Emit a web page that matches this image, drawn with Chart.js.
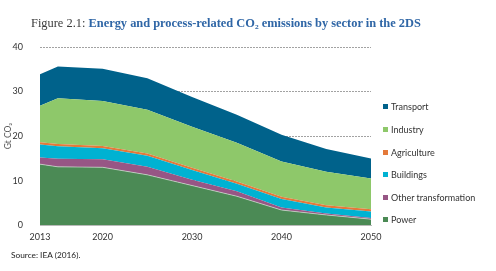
<!DOCTYPE html>
<html><head><meta charset="utf-8">
<script src="https://cdn.jsdelivr.net/npm/chart.js@4.4.0/dist/chart.umd.min.js"></script>
<style>
html,body{margin:0;padding:0;background:#fff;}
#wrap{position:relative;width:496px;height:271px;overflow:hidden;}
#c{position:absolute;left:0;top:0;}
#title{position:absolute;left:31px;top:16px;font-family:"Liberation Serif";font-size:12.4px;white-space:nowrap;color:#3a3a3a;}
#title b{color:#2f66a6;}
#source{position:absolute;left:11px;top:250px;font-family:Lato;font-size:8.3px;color:#222;}
.li{position:absolute;left:383px;white-space:nowrap;font-family:Lato;font-size:9px;color:#333;line-height:12px;height:12px;}
.sw{display:inline-block;width:5px;height:5px;margin-right:3px;vertical-align:1px;}
</style></head>
<body>
<div id="wrap">
<canvas id="c" width="496" height="271"></canvas>
<div id="title">Figure 2.1: <b>Energy and process-related CO₂ emissions by sector in the 2DS</b></div>
<div id="legend"></div>
<div id="source">Source: IEA (2016).</div>
</div>
<script>
const years = [2013, 2015, 2020, 2025, 2030, 2035, 2040, 2045, 2050];
const power = [13.7, 13.1, 13.0, 11.3, 8.9, 6.5, 3.4, 2.3, 1.35];
const otherTransformation = [1.5, 1.8, 1.8, 1.8, 1.3, 1.1, 0.6, 0.3, 0.25];
const buildings = [2.9, 2.8, 2.5, 2.5, 2.2, 1.7, 1.9, 1.4, 1.5];
const agriculture = [0.5, 0.5, 0.5, 0.5, 0.5, 0.5, 0.5, 0.5, 0.5];
const industry = [8.2, 10.3, 10.1, 9.8, 9.2, 8.7, 7.9, 7.5, 6.9];
const transport = [7.1, 7.1, 7.2, 7.1, 6.7, 6.3, 6.0, 5.1, 4.5];
const seriesNames = ['Power', 'Other transformation', 'Buildings', 'Agriculture', 'Industry', 'Transport'];
const seriesValues = [power, otherTransformation, buildings, agriculture, industry, transport];
const seriesColors = ['#4b8a55', '#975685', '#00b2d2', '#e4793a', '#8ec86a', '#00628b'];
const xTickValues = [2013, 2020, 2030, 2040, 2050];
const yTickValues = [0, 10, 20, 30, 40];

const datasets = seriesNames.map((name, k) => ({
  label: name,
  data: years.map((yr, i) => ({x: yr, y: seriesValues[k][i]})),
  backgroundColor: seriesColors[k],
  borderColor: k === 0 ? 'rgba(220,225,220,0.8)' : seriesColors[k],
  borderWidth: k === 0 ? 0.8 : 0,
  pointRadius: 0,
  tension: 0,
  fill: k === 0 ? 'origin' : '-1'
}));

// HTML legend (reverse order, top = Transport)
const leg = document.getElementById('legend');
for (let j = 0; j < seriesNames.length; j++) {
  const k = seriesNames.length - 1 - j;
  const d = document.createElement('div');
  d.className = 'li';
  d.style.top = (107.3 + j * 22.6 - 6) + 'px';
  d.innerHTML = '<span class="sw" style="background:' + seriesColors[k] + '"></span>' + seriesNames[k];
  leg.appendChild(d);
}

const tickFont = {family: 'Lato', size: 9};
new Chart(document.getElementById('c'), {
  type: 'line',
  data: {datasets},
  options: {
    responsive: false,
    animation: false,
    layout: {padding: {top: 47, left: 0, right: 125, bottom: 23}},
    plugins: {legend: {display: false}, tooltip: {enabled: false}},
    scales: {
      x: {
        type: 'linear', min: 2013, max: 2050,
        grid: {display: false, drawTicks: false},
        border: {display: true, color: '#bbbbbb'},
        ticks: {font: tickFont, color: '#333', padding: 6, maxRotation: 0, autoSkip: false, callback: v => String(v)},
        afterBuildTicks: s => { s.ticks = xTickValues.map(v => ({value: v})); }
      },
      y: {
        stacked: true, min: 0, max: 40,
        grid: {color: '#8a8a8a', lineWidth: 0.8, drawTicks: false},
        border: {display: false, dash: [2, 1]},
        ticks: {font: tickFont, color: '#333', padding: 17},
        afterBuildTicks: s => { s.ticks = yTickValues.map(v => ({value: v})); },
        afterFit: s => { s.width = 40; },
        title: {display: true, text: 'Gt CO₂', font: {family: 'Lato', size: 8.5}, color: '#555', padding: {top: 3, bottom: 0}}
      }
    }
  }
});
</script>
</body></html>
